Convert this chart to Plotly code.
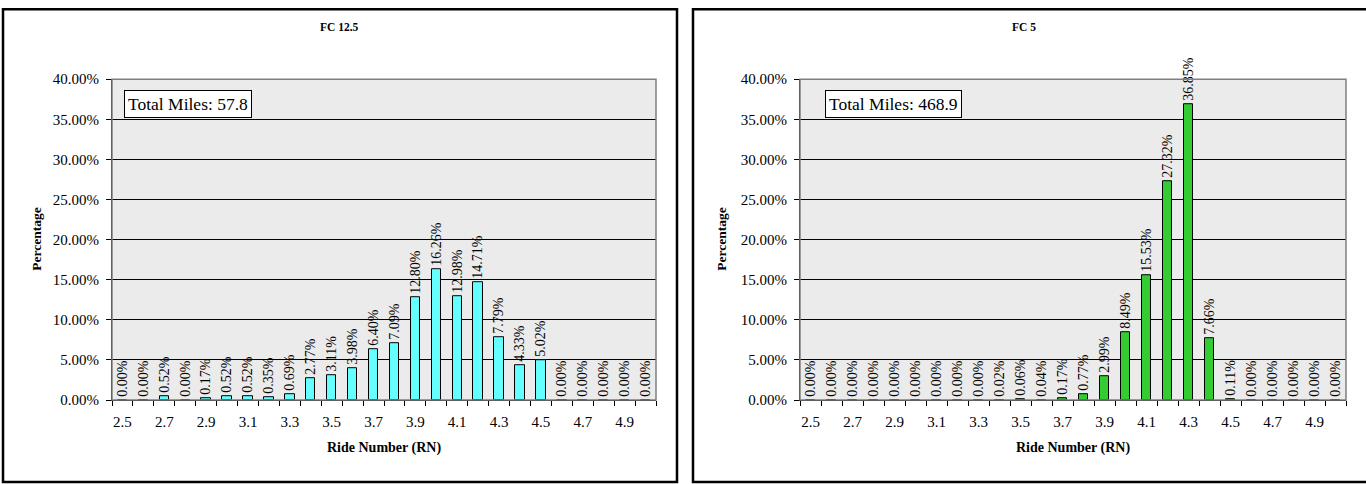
import plotly.graph_objects as go

W, H = 1366, 492

categories = [2.5, 2.6, 2.7, 2.8, 2.9, 3.0, 3.1, 3.2, 3.3, 3.4, 3.5, 3.6, 3.7,
              3.8, 3.9, 4.0, 4.1, 4.2, 4.3, 4.4, 4.5, 4.6, 4.7, 4.8, 4.9, 5.0]
fc125_values = [0.00, 0.00, 0.52, 0.00, 0.17, 0.52, 0.52, 0.35, 0.69, 2.77, 3.11, 3.98, 6.40,
                7.09, 12.80, 16.26, 12.98, 14.71, 7.79, 4.33, 5.02, 0.00, 0.00, 0.00, 0.00, 0.00]
fc5_values = [0.00, 0.00, 0.00, 0.00, 0.00, 0.00, 0.00, 0.00, 0.00, 0.02, 0.06, 0.04, 0.17,
              0.77, 2.99, 8.49, 15.53, 27.32, 36.85, 7.66, 0.11, 0.00, 0.00, 0.00, 0.00, 0.00]
tick_labels = ["2.5", "2.7", "2.9", "3.1", "3.3", "3.5", "3.7", "3.9", "4.1", "4.3", "4.5", "4.7", "4.9"]
y_ticks = [0, 5, 10, 15, 20, 25, 30, 35, 40]
titles = ["FC 12.5", "FC 5"]
total_miles = ["Total Miles: 57.8", "Total Miles: 468.9"]

FONT = "Liberation Serif, Times New Roman, serif"

# vertical mapping from target picture rows to page rows
V_SCALE = 484 / 500
V_OFF = 8


def px_x(p):
    return p / W


def px_y(p):
    page = p / V_SCALE - V_OFF
    return 1 - page / H


fig = go.Figure()

panels = [
    dict(values=fc125_values, color="#66FFFF", plot=(112, 656), panel=(3, 677), ytitle_x=37,
         title_x=339, box_x=124),
    dict(values=fc5_values, color="#33CC33", plot=(800, 1346), panel=(693, 1372), ytitle_x=722,
         title_x=1024, box_x=825),
]
plot_top, plot_bot = 79, 400

tick_vals = [float(t) for t in tick_labels]
boundaries = [round(c - 0.05, 2) for c in categories] + [round(categories[-1] + 0.05, 2)]

shapes = []
annotations = []
for i, p in enumerate(panels):
    xa = "x" if i == 0 else "x2"
    ya = "y" if i == 0 else "y2"
    fig.add_trace(go.Bar(
        x=categories, y=p["values"], width=0.045,
        marker=dict(color=p["color"], line=dict(color="black", width=1)),
        text=[f"{v:.2f}%" for v in p["values"]],
        textposition="outside", textangle=-90, constraintext="none",
        textfont=dict(family=FONT, size=14, color="black"),
        cliponaxis=False, xaxis=xa, yaxis=ya, showlegend=False,
    ))
    dom_x = [px_x(p["plot"][0]), px_x(p["plot"][1])]
    dom_y = [px_y(plot_bot), px_y(plot_top)]
    xkey = "xaxis" if i == 0 else "xaxis2"
    ykey = "yaxis" if i == 0 else "yaxis2"
    fig.update_layout(**{
        xkey: dict(
            domain=dom_x, anchor=ya, range=[boundaries[0], boundaries[-1]],
            tickvals=tick_vals, ticktext=tick_labels, ticks="",
            ticklabelstandoff=8,
            tickfont=dict(family=FONT, size=15, color="black"),
            showgrid=False, zeroline=False, showline=True, linecolor="black", linewidth=1,
            minor=dict(tickvals=boundaries, ticks="outside", ticklen=5, tickcolor="black",
                       tickwidth=1, showgrid=False),
        ),
        ykey: dict(
            domain=dom_y, anchor=xa, range=[0, 40], tickvals=y_ticks,
            ticktext=[f"{v:.2f}%" for v in y_ticks],
            ticks="outside", ticklen=5, tickcolor="black",
            ticklabelstandoff=4,
            tickfont=dict(family=FONT, size=15, color="black"),
            showgrid=True, gridcolor="black", gridwidth=1, zeroline=False,
            showline=True, linecolor="black", linewidth=1,
        ),
    })
    # gray plot-area frame (top/right)
    shapes.append(dict(type="rect", xref="paper", yref="paper",
                       x0=dom_x[0], x1=dom_x[1], y0=dom_y[0], y1=dom_y[1],
                       line=dict(color="#808080", width=1.5), layer="above"))
    # panel border
    shapes.append(dict(type="rect", xref="paper", yref="paper",
                       x0=px_x(p["panel"][0]), x1=px_x(p["panel"][1]),
                       y0=px_y(482), y1=1 - 1.2 / H,
                       line=dict(color="black", width=2.5)))
    cx = (p["plot"][0] + p["plot"][1]) / 2
    annotations.append(dict(text=f"<b>{titles[i]}</b>", xref="paper", yref="paper",
                            x=px_x(p["title_x"]), y=px_y(27), showarrow=False,
                            xanchor="center", yanchor="middle",
                            font=dict(family=FONT, size=11.5, color="black")))
    annotations.append(dict(text="<b>Ride Number (RN)</b>", xref="paper", yref="paper",
                            x=px_x(cx), y=px_y(448), showarrow=False,
                            xanchor="center", yanchor="middle",
                            font=dict(family=FONT, size=14, color="black")))
    annotations.append(dict(text="<b>Percentage</b>", xref="paper", yref="paper",
                            x=px_x(p["ytitle_x"]), y=px_y((plot_top + plot_bot) / 2),
                            showarrow=False, textangle=-90,
                            xanchor="center", yanchor="middle",
                            font=dict(family=FONT, size=13.5, color="black")))
    annotations.append(dict(text=total_miles[i], xref="paper", yref="paper",
                            x=px_x(p["box_x"]), y=px_y(90), showarrow=False,
                            xanchor="left", yanchor="top",
                            bordercolor="black", borderwidth=1, borderpad=3, bgcolor="white",
                            font=dict(family=FONT, size=17.5, color="black")))

fig.update_layout(
    width=W, height=H, autosize=False,
    margin=dict(l=0, r=0, t=0, b=0),
    paper_bgcolor="white", plot_bgcolor="#EBEBEB",
    bargap=0, shapes=shapes, annotations=annotations,
    font=dict(family=FONT, color="black"),
)

fig.write_html("out.html", config={"displayModeBar": False},
               post_script="document.body.style.margin='0';")
